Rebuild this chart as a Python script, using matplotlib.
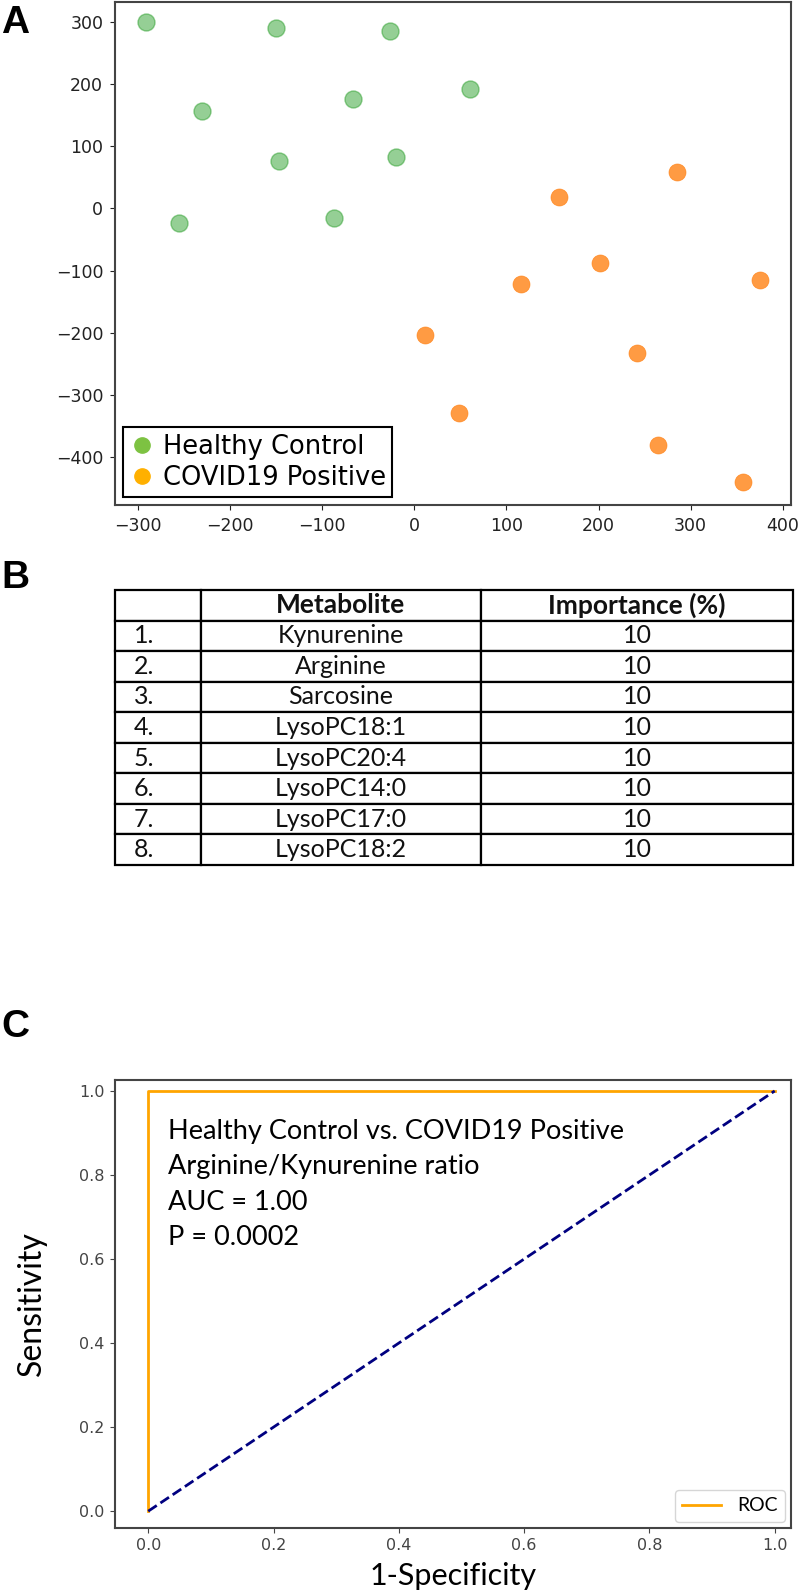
import numpy as np
import matplotlib
matplotlib.use('Agg')
import matplotlib.pyplot as plt
from matplotlib.lines import Line2D

# panel A: 2-D embedding
healthy_x = [-291, -150, -26, -231, -67, -147, -20, -256, -87, 61]
healthy_y = [300, 290, 286, 156, 176, 77, 82, -24, -15, 192]
covid_x = [285, 157, 202, 116, 375, 12, 242, 49, 265, 357]
covid_y = [58, 19, -88, -121, -115, -203, -232, -329, -381, -440]
group_labels = ['Healthy Control', 'COVID19 Positive']

# panel B: feature importance table
col_labels = ['', 'Metabolite', 'Importance (%)']
ranks = ['1.', '2.', '3.', '4.', '5.', '6.', '7.', '8.']
metabolites = ['Kynurenine', 'Arginine', 'Sarcosine', 'LysoPC18:1',
               'LysoPC20:4', 'LysoPC14:0', 'LysoPC17:0', 'LysoPC18:2']
importance = [10, 10, 10, 10, 10, 10, 10, 10]

# panel C: ROC curve
fpr = [0.0, 0.0, 1.0]
tpr = [0.0, 1.0, 1.0]
chance = [0.0, 1.0]
roc_notes = ['Healthy Control vs. COVID19 Positive',
             'Arginine/Kynurenine ratio', 'AUC = 1.00', 'P = 0.0002']

W, H = 800, 1594
fig = plt.figure(figsize=(W / 100, H / 100), dpi=100)


def box(left, top, right, bottom):
    return [left / W, 1 - bottom / H, (right - left) / W, (bottom - top) / H]


# ---- A ----
ax1 = fig.add_axes(box(115, 2, 791, 505))
ax1.scatter(healthy_x, healthy_y, s=150, color='tab:green', alpha=0.5, lw=1)
ax1.scatter(covid_x, covid_y, s=150, color='tab:orange', alpha=0.78, lw=0.5)
ax1.set_xlim(-325, 409)
ax1.set_ylim(-477, 332)
ax1.set_xticks(np.arange(-300, 401, 100))
ax1.set_yticks(np.arange(-400, 301, 100))
ax1.tick_params(labelsize=12.5, colors='#222222', pad=5)
for sp in ax1.spines.values():
    sp.set_color('#444444')
    sp.set_linewidth(1.5)
handles = [Line2D([], [], ls='none', marker='o', ms=11, color='#7dc242'),
           Line2D([], [], ls='none', marker='o', ms=11, color='#ffb000')]
leg = ax1.legend(handles, group_labels, loc='lower left', fontsize=18.5,
                 fancybox=False, framealpha=1, edgecolor='black',
                 handletextpad=0.3, borderpad=0.25, labelspacing=0.2,
                 handlelength=1.0, borderaxespad=0.3)
leg.get_frame().set_linewidth(1.5)

# ---- B ----
ax2 = fig.add_axes(box(115, 590, 793, 865))
ax2.axis('off')
cells = [[r, m, str(v)] for r, m, v in zip(ranks, metabolites, importance)]
tbl = ax2.table(cellText=cells, colLabels=col_labels, bbox=[0, 0, 1, 1],
                colWidths=[86, 280, 312], cellLoc='center')
tbl.auto_set_font_size(False)
for (r, c), cell in tbl.get_celld().items():
    cell.set_linewidth(1.6)
    cell.set_edgecolor('black')
    txt = cell.get_text()
    txt.set_fontfamily('Lato')
    txt.set_fontsize(18)
    txt.set_color('#111111')
    if r == 0:
        txt.set_fontweight('bold')
        txt.set_fontsize(19)
    if c == 0:
        txt.set_ha('left')
        cell.PAD = 0.22
        cell._loc = 'left'

# ---- C ----
c_top, c_bot = 1080, 1528
ax3 = fig.add_axes(box(115, c_top, 791, c_bot))
ax3.plot(fpr, tpr, color='orange', lw=2, label='ROC')
ax3.plot(chance, chance, color='navy', lw=2, ls='--')
ax3.set_xlim(-0.053, 1.026)
ax3.set_ylim(-0.04, 1.026)
ax3.set_xticks(np.arange(0, 1.01, 0.2))
ax3.set_yticks(np.arange(0, 1.01, 0.2))
ax3.tick_params(labelsize=11.5, colors='#444444', pad=4)
for sp in ax3.spines.values():
    sp.set_color('#444444')
    sp.set_linewidth(1.5)
ax3.set_xlabel('1-Specificity', fontsize=22, family='Lato', va='bottom')
ax3.xaxis.set_label_coords(0.5, -(H - 4 - c_bot) / (c_bot - c_top))
ax3.set_ylabel('Sensitivity', fontsize=23, family='Lato')
ax3.yaxis.set_label_coords(-0.10, 0.5)
for i, line in enumerate(roc_notes):
    ax3.text(0.032, 0.903 - i * 0.084, line, fontsize=19.5, family='Lato',
             va='center', ha='left')
ax3.legend(loc='lower right', prop={'family': 'Lato', 'size': 14},
           handlelength=2.0, borderaxespad=0.3)

for lab, y in zip(['A', 'B', 'C'], [5, 560, 1009]):
    fig.text(1 / W, 1 - y / H, lab, fontsize=28, fontweight='bold',
             family='Liberation Sans', va='top', ha='left')

fig.savefig('out.png', dpi=100)
